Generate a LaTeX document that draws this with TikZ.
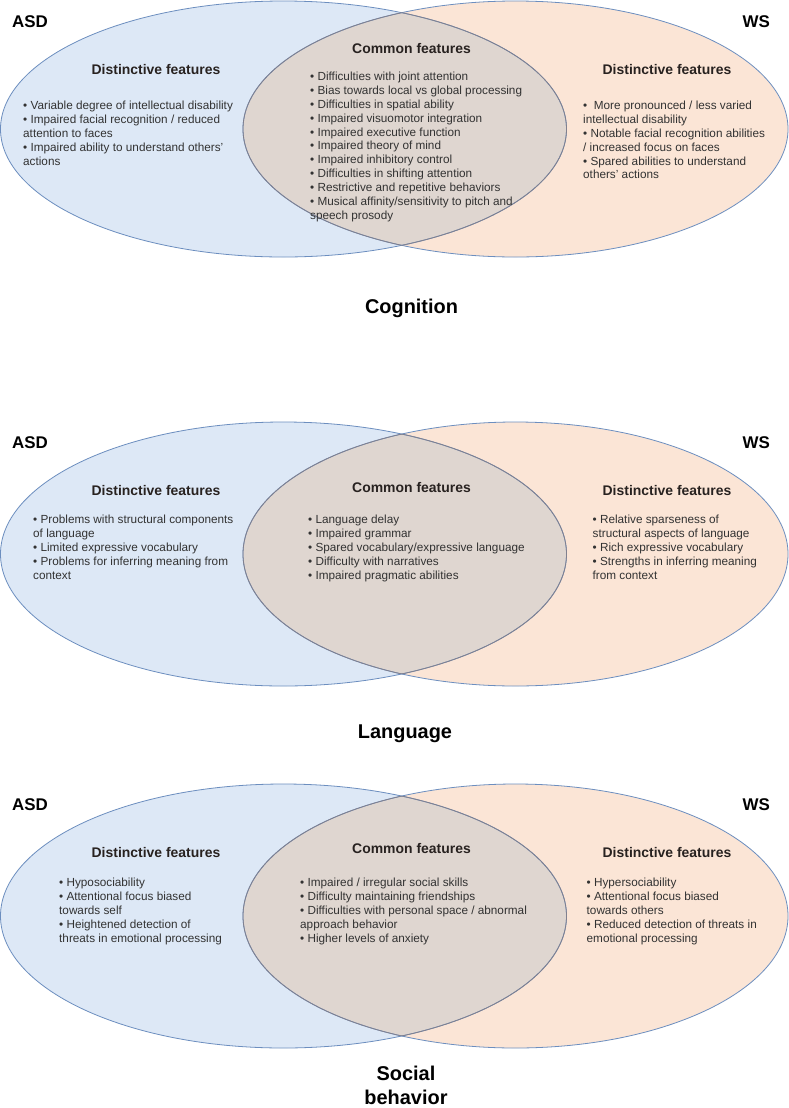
\documentclass[tikz,border=0pt]{standalone}
\usepackage{fontspec}
\setmainfont{Liberation Sans}
\definecolor{bluefill}{RGB}{221,232,246}
\definecolor{peachfill}{RGB}{251,229,214}
\definecolor{overlapfill}{RGB}{223,214,208}
\definecolor{blueline}{RGB}{108,142,191}
\definecolor{grayline}{RGB}{128,128,142}
\definecolor{headcol}{RGB}{40,34,32}
\definecolor{bodycol}{RGB}{50,50,50}
\tikzset{
  outerline/.style={draw=blueline, line width=0.8bp},
  innerline/.style={draw=grayline, line width=0.8bp},
  grouplabel/.style={font=\fontsize{17}{20}\selectfont\bfseries, inner sep=0},
  headtext/.style={font=\fontsize{14}{17}\selectfont\bfseries, text=headcol, inner sep=0, anchor=base},
  listtext/.style={font=\fontsize{11.8}{14}\selectfont, text=bodycol, align=left, inner sep=0, anchor=north west},
  sectitle/.style={font=\fontsize{20}{24}\selectfont\bfseries, inner sep=0, align=center},
}
\newcommand{\vennpair}[2]{%
  \fill[bluefill] (283.5,#1) ellipse [x radius=283, y radius=#2];
  \fill[peachfill] (515.5,#1) ellipse [x radius=272.5, y radius=#2];
  \begin{scope}
    \clip (283.5,#1) ellipse [x radius=283, y radius=#2];
    \fill[overlapfill] (515.5,#1) ellipse [x radius=272.5, y radius=#2];
  \end{scope}
  \draw[outerline] (283.5,#1) ellipse [x radius=283, y radius=#2];
  \draw[outerline] (515.5,#1) ellipse [x radius=272.5, y radius=#2];
  \begin{scope}
    \clip (283.5,#1) ellipse [x radius=283, y radius=#2];
    \draw[innerline] (515.5,#1) ellipse [x radius=272.5, y radius=#2];
  \end{scope}
  \begin{scope}
    \clip (515.5,#1) ellipse [x radius=272.5, y radius=#2];
    \draw[innerline] (283.5,#1) ellipse [x radius=283, y radius=#2];
  \end{scope}
}
\begin{document}
\begin{tikzpicture}[x=1bp,y=-1bp]
\useasboundingbox (0,0) rectangle (789,1108);
\fill[white] (0,0) rectangle (789,1108);

% ---------------- Cognition ----------------
\vennpair{129}{128}
\node[grouplabel, anchor=west] (asd1) at (12,22) {ASD};
\node[grouplabel, anchor=east] (ws1) at (770,22) {WS};
\node[headtext] (dl1) at (156,74) {Distinctive features};
\node[headtext] (cm1) at (411.5,53) {Common features};
\node[headtext] (dr1) at (667,74) {Distinctive features};
\node[listtext] (ll1) at (23,100.5) {• Variable degree of intellectual disability\\• Impaired facial recognition / reduced\\attention to faces\\• Impaired ability to understand others’\\actions};
\node[listtext] (lc1) at (310,71.5) {• Difficulties with joint attention\\• Bias towards local vs global processing\\• Difficulties in spatial ability\\• Impaired visuomotor integration\\• Impaired executive function\\• Impaired theory of mind\\• Impaired inhibitory control\\• Difficulties in shifting attention\\• Restrictive and repetitive behaviors\\• Musical affinity/sensitivity to pitch and\\speech prosody};
\node[listtext] (lr1) at (583,100.5) {•\ \ More pronounced / less varied\\intellectual disability\\• Notable facial recognition abilities\\/ increased focus on faces\\• Spared abilities to understand\\others’ actions};
\node[sectitle, anchor=base] (t1) at (411.5,313) {Cognition};

% ---------------- Language ----------------
\vennpair{554}{132}
\node[grouplabel, anchor=west] (asd2) at (12,442.5) {ASD};
\node[grouplabel, anchor=east] (ws2) at (770,442.5) {WS};
\node[headtext] (dl2) at (156,495) {Distinctive features};
\node[headtext] (cm2) at (411.5,492) {Common features};
\node[headtext] (dr2) at (667,495) {Distinctive features};
\node[listtext] (ll2) at (33,515) {• Problems with structural components\\of language\\• Limited expressive vocabulary\\• Problems for inferring meaning from\\context};
\node[listtext] (lc2) at (308,515) {• Language delay\\• Impaired grammar\\• Spared vocabulary/expressive language\\• Difficulty with narratives\\• Impaired pragmatic abilities};
\node[listtext] (lr2) at (592.5,515) {• Relative sparseness of\\structural aspects of language\\• Rich expressive vocabulary\\• Strengths in inferring meaning\\from context};
\node[sectitle, anchor=base] (t2) at (405,738) {Language};

% ---------------- Social behavior ----------------
\vennpair{916}{132}
\node[grouplabel, anchor=west] (asd3) at (12,805) {ASD};
\node[grouplabel, anchor=east] (ws3) at (770,805) {WS};
\node[headtext] (dl3) at (156,857) {Distinctive features};
\node[headtext] (cm3) at (411.5,853) {Common features};
\node[headtext] (dr3) at (667,857) {Distinctive features};
\node[listtext] (ll3) at (59,877.5) {• Hyposociability\\• Attentional focus biased\\towards self\\• Heightened detection of\\threats in emotional processing};
\node[listtext] (lc3) at (300,877.5) {• Impaired / irregular social skills\\• Difficulty maintaining friendships\\• Difficulties with personal space / abnormal\\approach behavior\\• Higher levels of anxiety};
\node[listtext] (lr3) at (586.5,877.5) {• Hypersociability\\• Attentional focus biased\\towards others\\• Reduced detection of threats in\\emotional processing};
\node[sectitle, anchor=north] (t3) at (406,1066) {Social\\behavior};
\end{tikzpicture}
\end{document}
